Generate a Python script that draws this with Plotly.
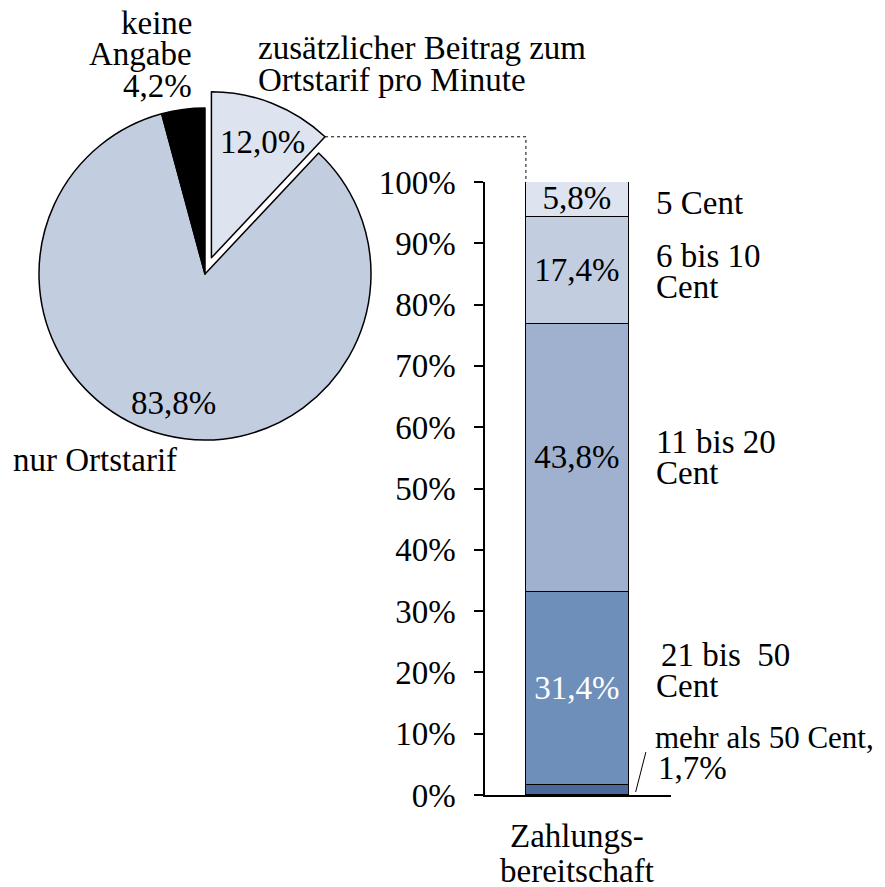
import math
import plotly.graph_objects as go

W, H = 885, 887          # browser window
OFF = 8                  # page body margin
FW, FH = W - OFF, H - OFF  # figure size
FONT = "Liberation Serif, Times New Roman, serif"
FS = 33

# ---- data ----
pie_labels = ["zusätzlicher Beitrag zum Ortstarif pro Minute", "nur Ortstarif", "keine Angabe"]
pie_values = [12.0, 83.8, 4.2]
pie_colors = ["#DDE3EF", "#C3CDE0", "#000000"]
pie_pull = [0.105, 0, 0]

bar_category = "Zahlungsbereitschaft"
bar_names = ["mehr als 50 Cent", "21 bis 50 Cent", "11 bis 20 Cent", "6 bis 10 Cent", "5 Cent"]
bar_values = [1.7, 31.4, 43.8, 17.4, 5.8]
bar_colors = ["#4A6A9C", "#6F8FBB", "#9FB1CF", "#C3CDE0", "#DDE3EF"]
bar_text_colors = ["black", "white", "black", "black", "black"]
y_ticks = list(range(0, 101, 10))
y_tick_labels = [f"{v}%" for v in y_ticks]


def px(sx):
    return (sx - OFF) / FW


def py(sy):
    return 1 - (sy - OFF) / FH


# ---- layout constants (screen pixels) ----
pie_cx, pie_cy, pie_r = 205, 274, 166
pull = max(pie_pull)
half = pie_r * (1 + pull)
pie_dom_x = [px(pie_cx - half), px(pie_cx + half)]
pie_dom_y = [py(pie_cy + half), py(pie_cy - half)]
ax_dom_x = [px(485), px(671)]
ax_dom_y = [py(795), py(182)]
x_range = [0, 1]
bar_x = 0.497
bar_w = 0.554

fig = go.Figure()

fig.add_trace(go.Pie(
    labels=pie_labels, values=pie_values, sort=False, direction="clockwise",
    rotation=0, pull=pie_pull, textinfo="none", hoverinfo="label+percent",
    marker=dict(colors=pie_colors, line=dict(color="black", width=1.5)),
    domain=dict(x=pie_dom_x, y=pie_dom_y), showlegend=False,
))

for i, (name, v, c) in enumerate(zip(bar_names, bar_values, bar_colors)):
    fig.add_trace(go.Bar(
        x=[bar_x], y=[v], width=bar_w, name=name,
        marker=dict(color=c, line=dict(color="black", width=1.5)),
        text=[f"{v:.1f}".replace(".", ",") + "%" if i > 0 else ""],
        textposition="inside", insidetextanchor="middle", textangle=0,
        constraintext="none",
        textfont=dict(family=FONT, size=FS, color=bar_text_colors[i]),
        showlegend=False,
    ))

# ---- connector from pulled slice tip to bar top ----
bw, bh = FW * (pie_dom_x[1] - pie_dom_x[0]), FH * (pie_dom_y[1] - pie_dom_y[0])
r = min(bw, bh) / 2 / (1 + pull)
cx = FW * sum(pie_dom_x) / 2
cy = FH * (1 - sum(pie_dom_y) / 2)
a1 = 2 * math.pi * pie_values[0] / sum(pie_values)
mid = a1 / 2
pcx = cx + pie_pull[0] * r * math.sin(mid)
pcy = cy - pie_pull[0] * r * math.cos(mid)
tipx = pcx + r * math.sin(a1)
tipy = pcy - r * math.cos(a1)
bar_left = ax_dom_x[0] + (bar_x - bar_w / 2 - x_range[0]) / (x_range[1] - x_range[0]) * (ax_dom_x[1] - ax_dom_x[0])
top = ax_dom_y[1]
tp = (tipx / FW, 1 - tipy / FH)
fig.add_shape(type="path", xref="paper", yref="paper",
              path=f"M {tp[0]},{tp[1]} L {bar_left},{tp[1]} L {bar_left},{top}",
              line=dict(color="black", width=1, dash="3px,3px"))

# slash for the small segment
fig.add_shape(type="line", xref="x", yref="y", x0=0.81, y0=0.5, x1=0.865, y1=7,
              line=dict(color="black", width=1))

# ---- text annotations ----
def txt(s, x, y, xa="left", color="black", size=FS):
    fig.add_annotation(text=s, x=px(x), y=py(y), xref="paper", yref="paper",
                       xanchor=xa, yanchor="middle", showarrow=False, borderpad=0,
                       font=dict(family=FONT, size=size, color=color))

txt("keine", 193, 23, "right")
txt("Angabe", 193, 54, "right")
txt("4,2%", 193, 86, "right")
txt("zusätzlicher Beitrag zum", 257, 48)
txt("Ortstarif pro Minute", 257, 80)
txt("12,0%", 219, 142)
txt("83,8%", 173, 403, "center")
txt("nur Ortstarif", 12, 460)

txt("5 Cent", 655, 203)
txt("6 bis 10", 655, 256)
txt("Cent", 655, 287)
txt("11 bis 20", 655, 442)
txt("Cent", 655, 473)
txt("21 bis  50", 660, 655)
txt("Cent", 655, 686)
txt("mehr als 50 Cent,", 654, 737, size=31)
txt("1,7%", 657, 768)

txt("Zahlungs-", 577, 836, "center")
txt("bereitschaft", 577, 871, "center")

fig.update_layout(
    width=FW, height=FH, margin=dict(l=0, r=0, t=0, b=0, autoexpand=False),
    paper_bgcolor="white", plot_bgcolor="white",
    barmode="stack", bargap=0, separators=",.",
    font=dict(family=FONT, size=FS, color="black"),
    xaxis=dict(domain=ax_dom_x, range=x_range, showgrid=False, zeroline=False,
               showline=True, linecolor="black", linewidth=1.5, automargin=False,
               showticklabels=False, ticks="", fixedrange=True),
    yaxis=dict(domain=ax_dom_y, range=[0, 100], showgrid=False, zeroline=False,
               showline=True, linecolor="black", linewidth=1.5, automargin=False,
               ticks="outside", ticklen=9, tickwidth=1.5, tickcolor="black",
               tickvals=y_ticks, ticktext=y_tick_labels, ticklabelstandoff=12,
               tickfont=dict(family=FONT, size=FS, color="black")),
)

fig.write_html("out.html")
